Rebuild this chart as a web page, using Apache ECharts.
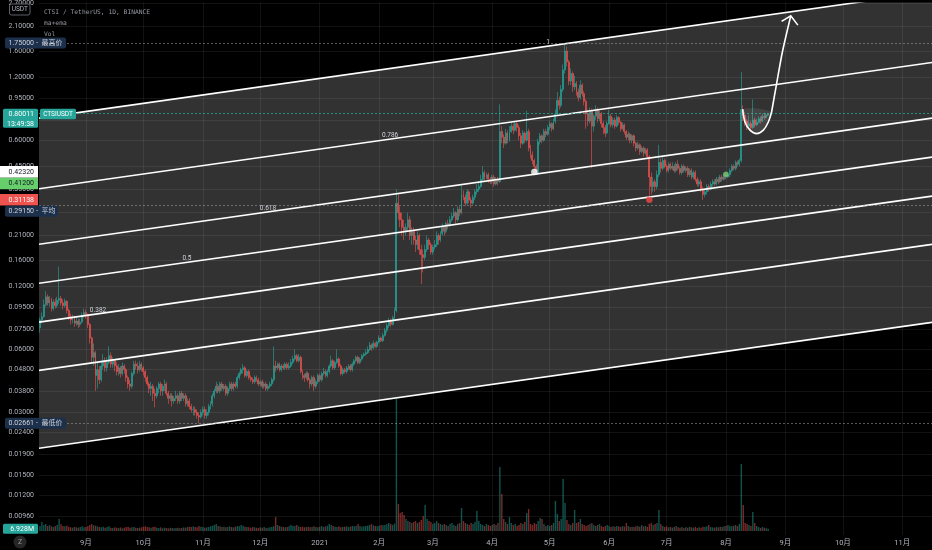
<!DOCTYPE html>
<html><head><meta charset="utf-8">
<script src="https://cdn.jsdelivr.net/npm/echarts@6/dist/echarts.min.js"></script>
<style>html,body{margin:0;padding:0;background:#000;}#c{width:932px;height:550px;}</style>
</head><body><div id="c"></div>
<script>
// ---------------- data (daily candles from startDate) ----------------
const startDate = '2020-08-08';
const firstOpen = 0.076;
const closes = [
0.083,0.086,0.098,0.107,0.100,0.104,0.094,0.101,0.097,0.103,
0.105,0.100,0.097,0.102,0.092,0.086,0.083,0.085,0.080,0.082,
0.079,0.081,0.087,0.090,0.088,0.079,0.068,0.055,0.058,0.045,
0.048,0.043,0.050,0.053,0.049,0.052,0.056,0.051,0.053,0.050,
0.047,0.049,0.046,0.050,0.048,0.044,0.041,0.040,0.046,0.051,
0.050,0.048,0.051,0.049,0.047,0.044,0.041,0.039,0.040,0.037,
0.036,0.039,0.041,0.038,0.040,0.041,0.037,0.035,0.036,0.034,
0.035,0.036,0.034,0.037,0.035,0.036,0.033,0.034,0.032,0.031,
0.031,0.030,0.029,0.0285,0.030,0.031,0.029,0.030,0.032,0.033,
0.036,0.038,0.040,0.038,0.041,0.039,0.040,0.037,0.039,0.041,
0.039,0.041,0.040,0.044,0.046,0.048,0.049,0.045,0.047,0.044,
0.043,0.042,0.044,0.043,0.041,0.042,0.040,0.041,0.039,0.040,
0.041,0.043,0.050,0.049,0.051,0.048,0.050,0.049,0.051,0.049,
0.050,0.052,0.054,0.056,0.053,0.055,0.047,0.045,0.044,0.046,
0.043,0.041,0.044,0.040,0.042,0.045,0.043,0.046,0.047,0.045,
0.047,0.050,0.053,0.049,0.052,0.054,0.050,0.046,0.048,0.047,
0.049,0.050,0.048,0.051,0.053,0.055,0.052,0.054,0.056,0.057,
0.058,0.060,0.063,0.061,0.064,0.062,0.065,0.068,0.066,0.070,
0.074,0.078,0.082,0.079,0.085,0.092,0.30,0.27,0.25,0.23,
0.22,0.23,0.25,0.21,0.22,0.20,0.19,0.21,0.18,0.17,
0.165,0.18,0.20,0.19,0.175,0.185,0.19,0.21,0.20,0.215,
0.23,0.22,0.24,0.235,0.25,0.26,0.27,0.25,0.28,0.27,
0.33,0.32,0.30,0.34,0.31,0.30,0.32,0.34,0.35,0.36,
0.39,0.42,0.40,0.41,0.39,0.38,0.40,0.37,0.39,0.38,
0.66,0.62,0.58,0.65,0.60,0.66,0.70,0.67,0.72,0.69,
0.63,0.58,0.65,0.60,0.66,0.55,0.51,0.48,0.45,0.42,
0.59,0.63,0.60,0.66,0.64,0.69,0.72,0.68,0.74,0.80,
0.93,0.88,1.05,1.30,1.60,1.42,1.15,1.25,1.08,1.12,
1.02,0.96,1.10,1.00,0.92,0.80,0.74,0.83,0.70,0.78,
0.84,0.76,0.80,0.72,0.69,0.65,0.72,0.78,0.71,0.75,
0.70,0.77,0.73,0.68,0.71,0.66,0.62,0.64,0.60,0.63,
0.58,0.55,0.57,0.53,0.55,0.52,0.54,0.50,0.40,0.36,
0.38,0.36,0.41,0.47,0.44,0.48,0.45,0.43,0.46,0.44,
0.45,0.43,0.46,0.44,0.42,0.45,0.43,0.44,0.41,0.43,
0.40,0.42,0.39,0.37,0.38,0.35,0.33,0.34,0.36,0.35,
0.37,0.38,0.37,0.39,0.38,0.40,0.39,0.41,0.40,0.41,
0.43,0.45,0.44,0.47,0.46,0.48,0.84,0.79,0.74,0.70,
0.72,0.69,0.75,0.71,0.73,0.76,0.74,0.78,0.77,0.79,0.80011
];
const highs = [
0.085,0.090,0.104,0.114,0.110,0.108,0.106,0.104,0.105,0.107,
0.149,0.108,0.104,0.105,0.103,0.094,0.089,0.088,0.087,0.085,
0.084,0.084,0.090,0.094,0.093,0.089,0.080,0.069,0.064,0.059,
0.052,0.050,0.053,0.057,0.055,0.055,0.062,0.058,0.055,0.054,
0.052,0.051,0.050,0.052,0.051,0.049,0.045,0.043,0.047,0.053,
0.053,0.052,0.053,0.052,0.050,0.048,0.045,0.042,0.042,0.041,
0.039,0.040,0.042,0.042,0.041,0.043,0.042,0.038,0.037,0.037,
0.036,0.038,0.037,0.038,0.038,0.037,0.037,0.035,0.035,0.033,
0.032,0.032,0.031,0.030,0.031,0.032,0.032,0.031,0.033,0.034,
0.037,0.039,0.042,0.041,0.042,0.042,0.041,0.041,0.040,0.042,
0.042,0.042,0.042,0.045,0.047,0.049,0.051,0.050,0.048,0.048,
0.045,0.044,0.045,0.045,0.044,0.043,0.043,0.042,0.042,0.041,
0.042,0.044,0.062,0.053,0.052,0.052,0.051,0.051,0.052,0.052,
0.052,0.054,0.056,0.060,0.057,0.057,0.056,0.048,0.046,0.047,
0.047,0.044,0.045,0.045,0.043,0.046,0.046,0.047,0.049,0.048,
0.048,0.051,0.056,0.054,0.053,0.060,0.055,0.051,0.049,0.049,
0.050,0.051,0.051,0.052,0.054,0.056,0.056,0.055,0.057,0.058,
0.060,0.062,0.065,0.064,0.066,0.065,0.066,0.070,0.069,0.072,
0.076,0.080,0.085,0.084,0.087,0.095,0.35,0.33,0.29,0.27,
0.25,0.24,0.27,0.26,0.23,0.23,0.21,0.22,0.215,0.19,
0.18,0.19,0.21,0.205,0.195,0.19,0.20,0.22,0.215,0.22,
0.24,0.235,0.245,0.25,0.26,0.27,0.285,0.275,0.29,0.29,
0.37,0.345,0.33,0.35,0.345,0.32,0.33,0.35,0.37,0.38,
0.41,0.45,0.43,0.42,0.42,0.40,0.41,0.41,0.40,0.40,
0.89,0.70,0.64,0.68,0.67,0.70,0.73,0.72,0.74,0.74,
0.71,0.65,0.67,0.66,0.83,0.68,0.57,0.53,0.49,0.46,
0.61,0.65,0.64,0.68,0.68,0.71,0.74,0.73,0.76,0.84,
1.02,0.97,1.10,1.38,1.75,1.68,1.45,1.32,1.28,1.22,
1.15,1.06,1.16,1.12,1.03,0.94,0.84,0.86,0.85,0.80,
0.88,0.86,0.83,0.82,0.74,0.71,0.74,0.84,0.80,0.77,
0.77,0.79,0.78,0.74,0.73,0.72,0.67,0.66,0.65,0.64,
0.64,0.59,0.59,0.58,0.56,0.56,0.55,0.55,0.51,0.42,
0.40,0.39,0.43,0.57,0.49,0.50,0.49,0.46,0.47,0.47,
0.47,0.46,0.47,0.48,0.45,0.46,0.46,0.45,0.45,0.44,
0.44,0.43,0.43,0.40,0.39,0.39,0.36,0.35,0.37,0.37,
0.38,0.39,0.39,0.40,0.40,0.41,0.41,0.42,0.42,0.42,
0.44,0.46,0.46,0.48,0.48,0.49,1.27,0.88,0.82,0.76,
0.79,0.74,0.94,0.77,0.76,0.78,0.78,0.80,0.81,0.81,0.81
];
const lows = [
0.072,0.080,0.085,0.096,0.097,0.096,0.091,0.092,0.094,0.095,
0.099,0.097,0.093,0.095,0.089,0.083,0.079,0.080,0.077,0.078,
0.076,0.077,0.080,0.085,0.084,0.076,0.064,0.052,0.050,0.038,
0.039,0.041,0.042,0.048,0.047,0.047,0.051,0.049,0.049,0.047,
0.045,0.045,0.044,0.045,0.046,0.042,0.039,0.038,0.039,0.045,
0.048,0.046,0.047,0.047,0.045,0.042,0.040,0.037,0.036,0.034,
0.0317,0.035,0.037,0.036,0.036,0.038,0.036,0.033,0.034,0.032,
0.033,0.034,0.033,0.033,0.034,0.034,0.032,0.032,0.031,0.030,
0.029,0.029,0.028,0.02661,0.028,0.029,0.028,0.028,0.029,0.031,
0.032,0.035,0.037,0.037,0.037,0.038,0.038,0.036,0.036,0.038,
0.038,0.038,0.039,0.039,0.043,0.045,0.046,0.044,0.044,0.043,
0.042,0.041,0.041,0.042,0.040,0.040,0.039,0.039,0.038,0.038,
0.039,0.040,0.042,0.047,0.048,0.047,0.047,0.048,0.048,0.048,
0.048,0.049,0.051,0.053,0.052,0.052,0.046,0.043,0.042,0.043,
0.042,0.039,0.040,0.038,0.039,0.041,0.042,0.042,0.045,0.044,
0.044,0.046,0.049,0.048,0.048,0.051,0.049,0.045,0.045,0.046,
0.046,0.048,0.047,0.047,0.050,0.052,0.051,0.051,0.053,0.055,
0.056,0.057,0.059,0.059,0.060,0.061,0.061,0.064,0.065,0.065,
0.069,0.072,0.076,0.077,0.078,0.084,0.090,0.25,0.23,0.21,
0.20,0.21,0.22,0.20,0.19,0.19,0.175,0.18,0.17,0.123,
0.14,0.16,0.175,0.18,0.17,0.17,0.18,0.185,0.19,0.195,
0.21,0.21,0.215,0.225,0.23,0.245,0.255,0.24,0.245,0.26,
0.265,0.31,0.29,0.295,0.30,0.285,0.295,0.31,0.33,0.34,
0.355,0.38,0.385,0.39,0.375,0.37,0.37,0.36,0.365,0.365,
0.375,0.58,0.55,0.57,0.58,0.59,0.65,0.64,0.66,0.66,
0.60,0.55,0.57,0.58,0.59,0.53,0.49,0.46,0.4232,0.41,
0.41,0.57,0.58,0.59,0.62,0.63,0.67,0.66,0.67,0.72,
0.78,0.84,0.86,1.02,1.25,1.35,1.10,1.10,1.02,1.04,
0.98,0.92,0.94,0.97,0.88,0.68,0.70,0.72,0.44,0.66,
0.75,0.73,0.74,0.69,0.64,0.62,0.64,0.71,0.69,0.69,
0.68,0.69,0.71,0.66,0.67,0.64,0.60,0.60,0.58,0.58,
0.56,0.53,0.54,0.51,0.52,0.50,0.51,0.49,0.31138,0.33,
0.34,0.34,0.35,0.40,0.42,0.43,0.44,0.42,0.42,0.43,
0.43,0.42,0.42,0.43,0.41,0.41,0.42,0.42,0.40,0.40,
0.39,0.39,0.38,0.36,0.36,0.34,0.31,0.32,0.33,0.34,
0.345,0.36,0.36,0.365,0.37,0.375,0.38,0.385,0.39,0.395,
0.40,0.42,0.43,0.43,0.45,0.45,0.47,0.74,0.70,0.67,
0.68,0.66,0.68,0.69,0.70,0.72,0.72,0.73,0.75,0.76,0.78
];
// volume in millions
const volumes = [
15,27,18,21,15,18,14,12,15,18, 36,20,15,14,16,12,11,10,12,11,
10,12,14,11,12,15,18,21,17,16, 14,12,11,13,10,12,14,10,9,11,
10,9,11,8,10,12,13,10,11,12, 10,9,10,11,13,14,12,11,10,12,
13,10,9,11,8,10,9,8,10,9, 8,9,10,8,9,11,10,12,13,12,
14,12,11,15,13,12,10,11,12,14, 16,18,21,15,14,12,13,11,12,14,
12,11,13,15,14,18,16,13,12,11, 10,12,11,10,9,11,10,12,9,10,
11,12,14,42,18,15,13,12,11,12, 14,18,16,15,18,14,12,13,11,12,
13,11,12,14,12,11,13,15,12,14, 16,21,18,15,13,12,14,11,12,13,
14,12,13,15,14,16,21,15,13,14, 15,16,18,21,17,15,14,16,18,17,
18,20,24,21,18,22,396,81,54,57, 48,36,30,27,24,27,30,24,27,33,
45,78,36,30,27,21,24,30,24,21, 18,21,18,15,21,24,18,15,21,24,
69,30,24,21,18,24,21,27,60,30, 21,18,15,21,18,15,18,21,18,24,
192,111,36,27,21,42,24,18,21,15, 18,24,21,27,54,66,21,18,24,21,
30,39,36,21,15,18,15,18,24,90, 51,30,36,156,84,33,21,18,24,63,
24,27,36,21,18,15,18,21,24,18, 15,18,21,15,12,15,18,15,12,14,
13,15,14,12,15,13,24,15,12,13, 12,14,15,13,18,14,15,12,21,24,
18,21,24,63,21,15,12,14,11,12, 10,12,15,11,10,12,9,11,10,12,
11,10,12,9,11,10,13,12,14,18, 12,11,10,12,11,13,12,14,15,18,
15,14,16,18,15,21,201,78,24,21, 18,15,57,24,15,12,9,12,10,8,6.928
];
const priceTicks = [2.7,2.1,1.6,1.2,0.95,0.75,0.6,0.45,0.35,0.27,0.21,0.16,0.12,0.095,0.075,0.06,0.048,0.038,0.03,0.024,0.019,0.015,0.012,0.0096];
const monthStarts = ['2020-09-01','2020-10-01','2020-11-01','2020-12-01','2021-01-01','2021-02-01','2021-03-01','2021-04-01','2021-05-01','2021-06-01','2021-07-01','2021-08-01','2021-09-01','2021-10-01','2021-11-01'];
const monthLabels = ['9月','10月','11月','12月','2021','2月','3月','4月','5月','6月','7月','8月','9月','10月','11月'];
const axisDays = [-0.5, 465.5];            // visible day range
const axisPrices = [0.00778, 2.73];        // visible price range
// fib channel (days, level-0 prices, level-1 prices)
const channelDays = [-0.5, 465.5];
const channelLow = [0.0202, 0.0808];
const channelHigh = [0.765, 3.07];
const fibLevels = [0, 0.236, 0.382, 0.5, 0.618, 0.786, 1];
const fibLabelLevels = [0.382, 0.5, 0.618, 0.786, 1];
const fibLabelDays = [30.3, 76.7, 119, 182.7, 265.1];
// marked points
const markDays = [258, 318, 358];
const markPrices = [0.4232, 0.31138, 0.412];
// drawn arrow (day, price)
const arrowCup = [[366.7,0.843],[367.9,0.733],[370.5,0.670],[374.0,0.645],[377.5,0.670],[380.1,0.733],[381.8,0.818]];
const arrowStem = [[381.8,0.818],[384.4,1.116],[387.4,1.579],[391.8,2.36]];
const arrowHead = [[387.0,2.217],[391.8,2.36],[395.5,2.128]];
// price tags
const highPrice = 1.75, lowPrice = 0.02661, avgPrice = 0.2915, lastPrice = 0.80011;

// ---------------- build ----------------
const L = Math.log;
const DAY = 86400000;
const t0 = Date.parse(startDate + 'T00:00:00Z');
const dayOf = s => Math.round((Date.parse(s + 'T00:00:00Z') - t0) / DAY);
const monthDays = monthStarts.map(dayOf);
const monthLabelOf = {};
monthDays.forEach((d, i) => monthLabelOf[d] = monthLabels[i]);
const opens = closes.map((c, i) => i === 0 ? firstOpen : closes[i - 1]);
const candleData = closes.map((c, i) => [i, L(opens[i]), L(c), L(lows[i]), L(highs[i])]);
const UP = '#26a69a', DN = '#ef5350';
const volData = volumes.map((v, i) => ({value: [i, v], itemStyle: {color: closes[i] >= opens[i] ? 'rgba(38,166,154,0.5)' : 'rgba(239,83,80,0.5)'}}));
const levelLn = (lv, k) => L(channelLow[k]) + (L(channelHigh[k]) - L(channelLow[k])) * lv;
const levelAt = (lv, d) => {
  const f = (d - channelDays[0]) / (channelDays[1] - channelDays[0]);
  return levelLn(lv, 0) + (levelLn(lv, 1) - levelLn(lv, 0)) * f;
};
const FONT = "Roboto, 'Noto Sans CJK SC', sans-serif";
const AX = '#b2b5be';

const chart = echarts.init(document.getElementById('c'));
const option = {
  backgroundColor: '#000',
  animation: false,
  grid: [
    {left: 39, right: 0, top: 0, height: 535},
    {left: 39, right: 0, bottom: 19, height: 150}
  ],
  xAxis: [
    {type: 'value', gridIndex: 0, min: axisDays[0], max: axisDays[1],
     axisLine: {show: false}, axisTick: {show: false, customValues: monthDays},
     axisLabel: {customValues: monthDays, color: AX, fontSize: 7.5, fontFamily: FONT, margin: 4,
       formatter: v => monthLabelOf[Math.round(v)] || ''},
     splitLine: {show: true, lineStyle: {color: 'rgba(255,255,255,0.07)', width: 1}}},
    {type: 'value', gridIndex: 1, min: axisDays[0], max: axisDays[1], show: false}
  ],
  yAxis: [
    {type: 'value', gridIndex: 0, position: 'left', min: L(axisPrices[0]), max: L(axisPrices[1]),
     axisLine: {show: false}, axisTick: {show: false, customValues: priceTicks.map(L)},
     axisLabel: {customValues: priceTicks.map(L), color: AX, fontSize: 7, fontFamily: FONT, margin: 5,
       formatter: v => Math.exp(v).toFixed(5)},
     splitLine: {show: true, lineStyle: {color: 'rgba(255,255,255,0.07)', width: 1}}},
    {type: 'value', gridIndex: 1, min: 0, max: 450, show: false, splitLine: {show: false}}
  ],
  series: [
    { // channel fill
      type: 'custom', xAxisIndex: 0, yAxisIndex: 0, clip: true, silent: true, z: 1,
      data: [[0, 0]],
      renderItem: (params, api) => ({
        type: 'polygon',
        shape: {points: [api.coord([channelDays[0], levelLn(0, 0)]), api.coord([channelDays[1], levelLn(0, 1)]),
                         api.coord([channelDays[1], levelLn(1, 1)]), api.coord([channelDays[0], levelLn(1, 0)])]},
        style: {fill: 'rgba(255,255,255,0.195)'}
      })
    },
    { // volume
      type: 'bar', xAxisIndex: 1, yAxisIndex: 1, data: volData, barWidth: 1.4, silent: true, z: 2
    },
    { // candles
      type: 'candlestick', xAxisIndex: 0, yAxisIndex: 0, data: candleData, barWidth: 1.4, z: 3, silent: true,
      itemStyle: {color: UP, color0: DN, borderColor: UP, borderColor0: DN, borderWidth: 0.6},
      markLine: {
        silent: true, symbol: 'none', label: {show: false}, animation: false,
        data: [
          {yAxis: L(highPrice), lineStyle: {color: 'rgba(160,160,160,0.55)', type: [2, 2], width: 1}},
          {yAxis: L(lastPrice), lineStyle: {color: 'rgba(38,166,154,0.8)', type: [2, 2], width: 1}},
          {yAxis: L(avgPrice), lineStyle: {color: 'rgba(160,160,160,0.55)', type: [2, 2], width: 1}},
          {yAxis: L(lowPrice), lineStyle: {color: 'rgba(160,160,160,0.55)', type: [2, 2], width: 1}}
        ]
      }
    },
    { // channel lines + labels
      type: 'custom', xAxisIndex: 0, yAxisIndex: 0, clip: true, silent: true, z: 4,
      data: [[0, 0]],
      renderItem: (params, api) => {
        const ch = fibLevels.map(lv => ({
          type: 'line',
          shape: (() => { const a = api.coord([channelDays[0], levelLn(lv, 0)]), b = api.coord([channelDays[1], levelLn(lv, 1)]);
                          return {x1: a[0], y1: a[1], x2: b[0], y2: b[1]}; })(),
          style: {stroke: '#ffffff', lineWidth: 1.6}
        }));
        fibLabelLevels.forEach((lv, i) => {
          const p = api.coord([fibLabelDays[i], levelAt(lv, fibLabelDays[i])]);
          ch.push({type: 'text', x: p[0], y: p[1] - 0.5,
            style: {text: String(lv), fill: '#d1d4dc', font: '6.5px ' + FONT, align: 'center', verticalAlign: 'bottom',
                    textAlign: 'center', textVerticalAlign: 'bottom'}});
        });
        return {type: 'group', children: ch};
      }
    },
    { // marked points
      type: 'scatter', xAxisIndex: 0, yAxisIndex: 0, z: 5, silent: true,
      data: [
        {value: [markDays[0], L(markPrices[0])], symbolSize: 6.5, itemStyle: {color: '#ffffff'}},
        {value: [markDays[1], L(markPrices[1])], symbolSize: 6.5, itemStyle: {color: '#f04a48'}},
        {value: [markDays[2], L(markPrices[2])], symbolSize: 5.5, itemStyle: {color: 'rgba(120,220,120,0.85)'}}
      ]
    },
    { // arrow drawing
      type: 'custom', xAxisIndex: 0, yAxisIndex: 0, clip: true, silent: true, z: 6,
      data: [[0, 0]],
      renderItem: (params, api) => {
        const c = pts => pts.map(p => api.coord([p[0], L(p[1])]));
        const cup = c(arrowCup);
        return {type: 'group', children: [
          {type: 'polygon', shape: {points: cup, smooth: 0.35}, style: {fill: 'rgba(255,255,255,0.09)', stroke: null}},
          {type: 'polyline', shape: {points: cup, smooth: 0.35}, style: {stroke: '#fff', lineWidth: 1.6, fill: null}},
          {type: 'polyline', shape: {points: c(arrowStem), smooth: 0.25}, style: {stroke: '#fff', lineWidth: 1.6, fill: null}},
          {type: 'polyline', shape: {points: c(arrowHead)}, style: {stroke: '#fff', lineWidth: 1.6, fill: null, lineJoin: 'miter'}}
        ]};
      }
    }
  ]
};
chart.setOption(option);

// ---------------- axis price tags (y from the library's scale) ----------------
const py = p => chart.convertToPixel({yAxisIndex: 0}, L(p));
const NAVY = '#1c304c';
const tags = [
  {p: highPrice, t: '1.75000', extra: '最高价', bg: NAVY, fg: '#d1d4dc', kind: 'navy'},
  {p: lastPrice, t: '0.80011', sub: '13:49:38', extra: 'CTSIUSDT', bg: UP, fg: '#ffffff', kind: 'last'},
  {p: markPrices[0], t: '0.42320', bg: '#ffffff', fg: '#131722', kind: 'plain'},
  {p: markPrices[2], t: '0.41200', bg: '#66cf6b', fg: '#131722', kind: 'plain'},
  {p: markPrices[1], t: '0.31138', bg: '#ef5350', fg: '#ffffff', kind: 'plain'},
  {p: avgPrice, t: '0.29150', extra: '平均', bg: NAVY, fg: '#d1d4dc', kind: 'navy'},
  {p: lowPrice, t: '0.02661', extra: '最低价', bg: NAVY, fg: '#d1d4dc', kind: 'navy'}
];
tags.forEach(g => g.y = py(g.p));
tags.sort((a, b) => a.y - b.y);
let prevBottom = -99;
tags.forEach(g => {
  const top = g.kind === 'last' ? 5.3 : 5.8;
  const h = g.kind === 'last' ? 19 : 11.6;
  if (g.y - top < prevBottom) g.y = prevBottom + top;
  prevBottom = g.y - top + h;
});
const txt = (x, y, text, fill, size, align, fam) => ({type: 'text', x: x, y: y, z: 100,
  style: {text: text, fill: fill, font: size + 'px ' + (fam || FONT), align: align, verticalAlign: 'middle',
          textAlign: align, textVerticalAlign: 'middle'}});
const graphics = [
  txt(44, 12.5, 'CTSI / TetherUS, 1D, BINANCE', '#9598a1', 6.3, 'left', "'DejaVu Sans Mono', monospace"),
  txt(44, 23.5, 'ma+ema', '#9598a1', 6.3, 'left', "'DejaVu Sans Mono', monospace"),
  txt(44, 34.5, 'Vol', '#9598a1', 6.3, 'left', "'DejaVu Sans Mono', monospace"),
  {type: 'rect', z: 100, shape: {x: 9.5, y: 4, width: 20.5, height: 11, r: 2}, style: {fill: '#000', stroke: '#5d606b', lineWidth: 1}},
  txt(19.75, 9.7, 'USDT', AX, 6.5, 'center'),
  {type: 'circle', z: 100, shape: {cx: 20, cy: 542, r: 6.5}, style: {fill: '#262626'}},
  txt(20, 542, 'Z', '#9598a1', 7, 'center')
];
tags.forEach(g => {
  if (g.kind === 'navy') {
    const w = g.extra.length === 2 ? 53 : 61;
    graphics.push({type: 'rect', z: 100, shape: {x: 5, y: g.y - 5.5, width: w, height: 11, r: 2}, style: {fill: g.bg}});
    graphics.push(txt(34, g.y + 0.3, g.t, g.fg, 7, 'right'));
    graphics.push(txt(36, g.y + 0.3, '-', g.fg, 7, 'left'));
    graphics.push(txt(41.5, g.y + 0.3, g.extra, g.fg, 7, 'left'));
  } else if (g.kind === 'last') {
    graphics.push({type: 'rect', z: 100, shape: {x: 3, y: g.y - 5.3, width: 35, height: 19, r: 1.5}, style: {fill: g.bg}});
    graphics.push(txt(34, g.y + 0.5, g.t, g.fg, 7, 'right'));
    graphics.push(txt(34, g.y + 10, g.sub, g.fg, 7, 'right'));
    graphics.push({type: 'rect', z: 100, shape: {x: 40, y: g.y - 5.3, width: 36, height: 10.6, r: 1.5}, style: {fill: g.bg}});
    graphics.push(txt(58, g.y + 0.2, g.extra, g.fg, 6.5, 'center'));
  } else {
    graphics.push({type: 'rect', z: 100, shape: {x: 0, y: g.y - 5.8, width: 38, height: 11.6}, style: {fill: g.bg}});
    graphics.push(txt(34, g.y + 0.2, g.t, g.fg, 7, 'right'));
  }
});
// volume tag
const vy = chart.convertToPixel({yAxisIndex: 1}, volumes[volumes.length - 1]);
graphics.push({type: 'rect', z: 100, shape: {x: 3, y: vy - 5, width: 35, height: 10, r: 1.5}, style: {fill: UP}});
graphics.push(txt(34, vy + 0.2, volumes[volumes.length - 1].toFixed(3) + 'M', '#ffffff', 7, 'right'));
chart.setOption({graphic: graphics});
</script>
</body></html>
